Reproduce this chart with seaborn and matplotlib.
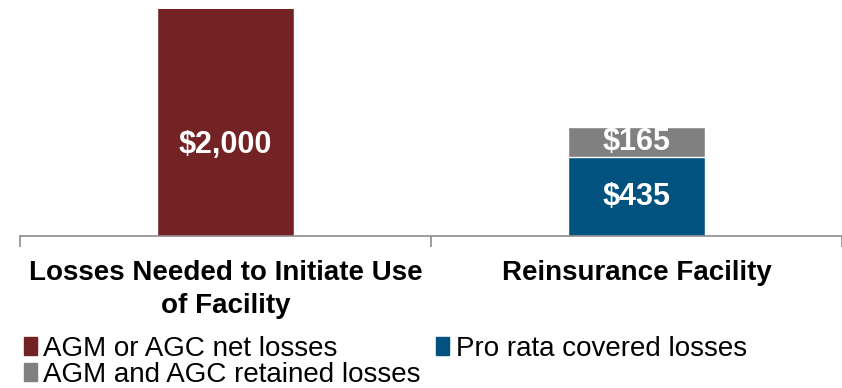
import matplotlib
matplotlib.use("Agg")
import matplotlib.pyplot as plt
import seaborn as sns
from matplotlib.patches import Patch
from matplotlib.ticker import FixedLocator

# Data
categories = ["Losses Needed to Initiate Use\nof Facility", "Reinsurance Facility"]
net_losses = [2000, 0]        # AGM or AGC net losses
pro_rata = [0, 435]           # Pro rata covered losses
retained = [0, 165]           # AGM and AGC retained losses
series_names = ["AGM or AGC net losses", "Pro rata covered losses", "AGM and AGC retained losses"]

RED = "#742324"
BLUE = "#01527f"
GREY = "#808080"

sns.set_theme(style="white")
plt.rcParams["font.family"] = ["Liberation Sans", "DejaVu Sans"]

fig = plt.figure(figsize=(8.42, 3.88), dpi=100)
ax = fig.add_axes([20 / 842, 152 / 388, 822 / 842, 227 / 388])

# Stacked layers drawn back to front: cumulative totals first
top_layer = [p + r for p, r in zip(pro_rata, retained)]
sns.barplot(x=categories, y=top_layer, color=GREY, width=0.333, saturation=1, ax=ax)
sns.barplot(x=categories, y=pro_rata, color=BLUE, width=0.333, saturation=1, ax=ax)
sns.barplot(x=categories, y=net_losses, color=RED, width=0.333, saturation=1, ax=ax)

ax.set_xlim(-0.5, 1.5)
ax.set_ylim(0, 1250)

# Value labels
label_kw = dict(color="white", fontsize=22, fontweight="bold", ha="center", va="center")
ax.text(0, 500, f"${net_losses[0]:,}", **label_kw)
ax.text(1, pro_rata[1] + retained[1] / 2, f"${retained[1]:,}", **label_kw)
ax.text(1, pro_rata[1] / 2, f"${pro_rata[1]:,}", **label_kw)

# Axes styling
for side in ("top", "right", "left"):
    ax.spines[side].set_visible(False)
ax.spines["bottom"].set_color("#8c8c8c")
ax.spines["bottom"].set_linewidth(1.2)
ax.set_yticks([])
ax.set_xticks([0, 1])
ax.set_xticklabels(categories, fontsize=20, fontweight="bold", color="black", linespacing=1.35)
ax.tick_params(axis="x", which="major", length=0, pad=17)
ax.xaxis.set_minor_locator(FixedLocator([-0.5, 0.5, 1.5]))
ax.tick_params(axis="x", which="minor", length=8, width=1.2, color="#8c8c8c", bottom=True, direction="out")
ax.set_xlabel("")
ax.set_ylabel("")

handles = [Patch(color=RED), Patch(color=GREY), Patch(color=BLUE)]
labels = [series_names[0], series_names[2], series_names[1]]
leg = fig.legend(handles, labels, ncol=2, loc="upper left", bbox_to_anchor=(24 / 842, 1 - 336 / 388),
                 frameon=False, fontsize=20, handlelength=0.45, handleheight=0.6, handletextpad=0.25,
                 columnspacing=0.55, labelspacing=0.0, borderpad=0, borderaxespad=0)
for t in leg.get_texts():
    t.set_color("black")

fig.savefig("out.png", dpi=100)
